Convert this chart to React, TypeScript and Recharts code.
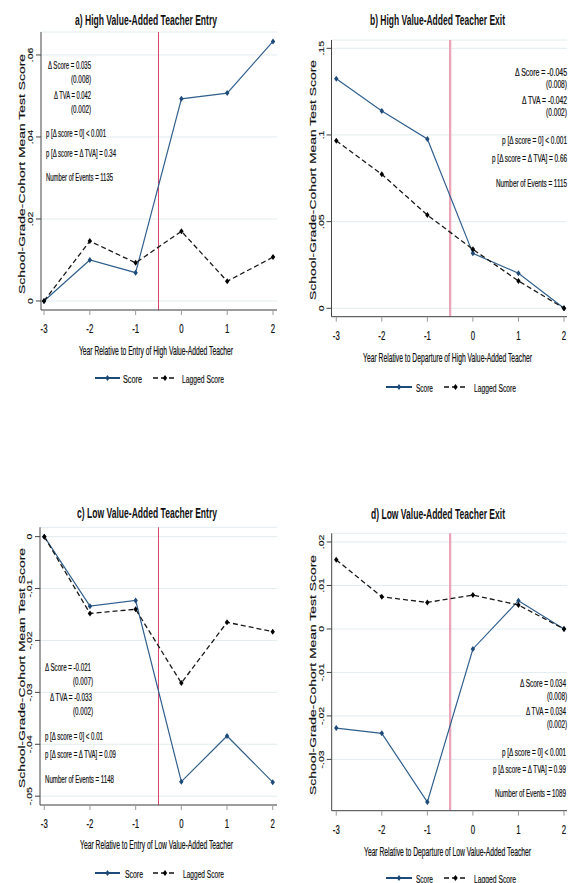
import React from 'react';
import { LineChart, Line, XAxis, YAxis, CartesianGrid, ReferenceLine } from 'recharts';

const years = [-3, -2, -1, 0, 1, 2];
const xTickLabels = ['-3', '-2', '-1', '0', '1', '2'];

const aScore = [0, 0.0100, 0.0069, 0.0493, 0.0507, 0.0633];
const aLagged = [0, 0.0146, 0.0093, 0.0170, 0.0048, 0.0107];
const bScore = [0.1325, 0.1138, 0.0977, 0.0317, 0.0202, 0];
const bLagged = [0.0967, 0.0773, 0.0538, 0.0340, 0.0158, 0];
const cScore = [0, -0.0134, -0.0123, -0.0472, -0.0384, -0.0473];
const cLagged = [0, -0.0148, -0.0140, -0.0282, -0.0165, -0.0183];
const dScore = [-0.0228, -0.0240, -0.0398, -0.0046, 0.0065, 0];
const dLagged = [0.0159, 0.0074, 0.0061, 0.0078, 0.0055, 0];

const aYTicks = [0, 0.02, 0.04, 0.06];
const aYLabels = ['0', '.02', '.04', '.06'];
const bYTicks = [0, 0.05, 0.1, 0.15];
const bYLabels = ['0', '.05', '.1', '.15'];
const cYTicks = [0, -0.01, -0.02, -0.03, -0.04, -0.05];
const cYLabels = ['0', '-.01', '-.02', '-.03', '-.04', '-.05'];
const dYTicks = [0.02, 0.01, 0, -0.01, -0.02, -0.03];
const dYLabels = ['.02', '.01', '0', '-.01', '-.02', '-.03'];

const seriesNames = ['Score', 'Lagged Score'];

const SCORE_COLOR = '#32608e';
const LAG_COLOR = '#1a1a1a';
const FONT = "'Liberation Sans', Arial, sans-serif";
const AXW = 30;
const K = 0.6;

const makeRows = (s: number[], l: number[]) =>
  years.map((y, i) => ({ year: y, score: s[i], lagged: l[i] }));

const diamond = (color: string) => (props: any) => {
  const { cx, cy, index } = props;
  if (cx == null || cy == null) return <g key={`n-${index}`} />;
  return (
    <path
      key={`d-${index}`}
      d={`M${cx},${cy - 3}L${cx + 2.2},${cy}L${cx},${cy + 3}L${cx - 2.2},${cy}Z`}
      fill={color}
    />
  );
};

const XTick = (props: any) => {
  const { x, y, payload } = props;
  const i = years.findIndex((v) => Math.abs(v - payload.value) < 1e-6);
  return (
    <text
      transform={`translate(${x},${y + 18}) scale(1,1.55)`}
      textAnchor="middle"
      fontSize={7.8}
      fontFamily={FONT}
      fill="#111"
      stroke="#111"
      strokeWidth={0.15}
    >
      {i >= 0 ? xTickLabels[i] : ''}
    </text>
  );
};

const makeYTick = (ticks: number[], labels: string[]) => (props: any) => {
  const { x, y, payload } = props;
  const i = ticks.findIndex((v) => Math.abs(v - payload.value) < 1e-7);
  return (
    <text
      transform={`translate(${x - 1},${y}) scale(0.66,1) rotate(-90)`}
      textAnchor="middle"
      fontSize={10.5}
      fontFamily={FONT}
      fill="#111"
      stroke="#111"
      strokeWidth={0.2}
    >
      {i >= 0 ? labels[i] : ''}
    </text>
  );
};

type PanelProps = {
  score: number[];
  lagged: number[];
  xDomain: [number, number];
  yDomain: [number, number];
  yTicks: number[];
  yLabels: string[];
  plot: { top: number; left: number; right: number; bottom: number };
  refColor: string;
  refWidth: number;
};

const Panel = ({ score, lagged, xDomain, yDomain, yTicks, yLabels, plot, refColor, refWidth }: PanelProps) => (
  <div style={{ position: 'absolute', left: 0, top: 0 }}>
    <LineChart
      width={568}
      height={883}
      data={makeRows(score, lagged)}
      margin={{ top: plot.top, left: plot.left - AXW, right: 568 - plot.right, bottom: 883 - plot.bottom - AXW }}
    >
      <CartesianGrid vertical={false} stroke="#e2ecef" strokeWidth={1} />
      <XAxis
        dataKey="year"
        type="number"
        domain={xDomain}
        ticks={years}
        allowDataOverflow
        interval={0}
        height={AXW}
        tickSize={5}
        tickMargin={0}
        tick={<XTick />}
        axisLine={{ stroke: '#444' }}
        tickLine={{ stroke: '#9a9a9a' }}
      />
      <YAxis
        type="number"
        domain={yDomain}
        ticks={yTicks}
        allowDataOverflow
        interval={0}
        width={AXW}
        tickSize={5}
        tickMargin={2}
        tick={makeYTick(yTicks, yLabels)}
        axisLine={{ stroke: '#444' }}
        tickLine={{ stroke: '#444' }}
      />
      <ReferenceLine x={-0.5} stroke={refColor} strokeWidth={refWidth} />
      <Line
        dataKey="score"
        stroke={SCORE_COLOR}
        strokeWidth={1.2}
        dot={diamond('#1d4a78')}
        isAnimationActive={false}
      />
      <Line
        dataKey="lagged"
        stroke={LAG_COLOR}
        strokeWidth={1.3}
        strokeDasharray="5 3"
        dot={diamond('#000')}
        isAnimationActive={false}
      />
    </LineChart>
  </div>
);

const T = ({ x, y, w, anchor = 'start', size = 10, bold = false, children }: any) => (
  <text
    transform={`translate(${x},${y}) scale(1,${1 / K})`}
    textLength={w}
    lengthAdjust="spacingAndGlyphs"
    textAnchor={anchor}
    fontSize={size * K}
    fontWeight={bold ? 'bold' : 'normal'}
    fontFamily={FONT}
    fill="#111"
    stroke={bold ? 'none' : '#111'}
    strokeWidth={bold ? 0 : 0.12}
  >
    {children}
  </text>
);

const YTitle = ({ x, y }: any) => (
  <text
    transform={`translate(${x},${y}) scale(0.7,1) rotate(-90)`}
    textAnchor="middle"
    textLength={240}
    lengthAdjust="spacingAndGlyphs"
    fontSize={14}
    fontFamily={FONT}
    fill="#111"
    stroke="#111"
    strokeWidth={0.2}
  >
    School-Grade-Cohort Mean Test Score
  </text>
);

const LegendRow = ({ x1, x2, x3, x4, y, tx1, tw1, tx2, tw2 }: any) => (
  <g>
    <line x1={x1} y1={y} x2={x2} y2={y} stroke="#1d4a78" strokeWidth={2} />
    <path d={`M${(x1 + x2) / 2},${y - 3}l2.2,3l-2.2,3l-2.2,-3Z`} fill="#1d4a78" />
    <T x={tx1} y={y + 5} w={tw1} size={11.5}>{seriesNames[0]}</T>
    <line x1={x3} y1={y} x2={x4} y2={y} stroke="#111" strokeWidth={1.4} strokeDasharray="5 3" />
    <path d={`M${(x3 + x4) / 2},${y - 3}l2.2,3l-2.2,3l-2.2,-3Z`} fill="#000" />
    <T x={tx2} y={y + 5} w={tw2} size={11.5}>{seriesNames[1]}</T>
  </g>
);

export default function App() {
  return (
    <div style={{ position: 'absolute', left: 0, top: 0, width: 568, height: 883, background: '#fff', overflow: 'hidden' }}>
      <Panel
        score={aScore}
        lagged={aLagged}
        xDomain={[-3.066, 2.087]}
        yDomain={[-0.0022, 0.0656]}
        yTicks={aYTicks}
        yLabels={aYLabels}
        plot={{ top: 32, left: 41, right: 277, bottom: 310 }}
        refColor="#d9446a"
        refWidth={1}
      />
      <Panel
        score={bScore}
        lagged={bLagged}
        xDomain={[-3.105, 2.066]}
        yDomain={[-0.00485, 0.1548]}
        yTicks={bYTicks}
        yLabels={bYLabels}
        plot={{ top: 40, left: 331.5, right: 567, bottom: 316.7 }}
        refColor="#eba5b8"
        refWidth={2.3}
      />
      <Panel
        score={cScore}
        lagged={cLagged}
        xDomain={[-3.094, 2.094]}
        yDomain={[-0.0517, 0.0018]}
        yTicks={cYTicks}
        yLabels={cYLabels}
        plot={{ top: 527.3, left: 40, right: 277, bottom: 805 }}
        refColor="#d9446a"
        refWidth={1}
      />
      <Panel
        score={dScore}
        lagged={dLagged}
        xDomain={[-3.1, 2.066]}
        yDomain={[-0.0418, 0.022]}
        yTicks={dYTicks}
        yLabels={dYLabels}
        plot={{ top: 533.3, left: 331.7, right: 567, bottom: 810.7 }}
        refColor="#eba5b8"
        refWidth={2.3}
      />
      <svg width={568} height={883} style={{ position: 'absolute', left: 0, top: 0, pointerEvents: 'none' }}>
        {/* titles */}
        <T x={75} y={25} w={142} size={14} bold>a) High Value-Added Teacher Entry</T>
        <T x={370} y={25} w={135} size={14} bold>b) High Value-Added Teacher Exit</T>
        <T x={77} y={518} w={140} size={14} bold>c) Low Value-Added Teacher Entry</T>
        <T x={371} y={519} w={134} size={14} bold>d) Low Value-Added Teacher Exit</T>

        {/* axis titles */}
        <T x={79} y={355} w={154} size={12}>Year Relative to Entry of High Value-Added Teacher</T>
        <T x={363} y={362} w={169} size={12}>Year Relative to Departure of High Value-Added Teacher</T>
        <T x={80} y={849} w={153} size={12}>Year Relative to Entry of Low Value-Added Teacher</T>
        <T x={364} y={856} w={167} size={12}>Year Relative to Departure of Low Value-Added Teacher</T>
        <YTitle x={25} y={174} />
        <YTitle x={316} y={180} />
        <YTitle x={25} y={668} />
        <YTitle x={316} y={675} />

        {/* panel a annotations */}
        <T x={91} y={69} w={43} anchor="end">Δ Score = 0.035</T>
        <T x={91} y={83} w={20} anchor="end">(0.008)</T>
        <T x={91} y={99} w={37} anchor="end">Δ TVA = 0.042</T>
        <T x={91} y={113} w={20} anchor="end">(0.002)</T>
        <T x={46} y={137} w={60}>p [Δ score = 0] &lt; 0.001</T>
        <T x={46} y={157} w={70}>p [Δ score = Δ TVA] = 0.34</T>
        <T x={46} y={181} w={67}>Number of Events = 1135</T>

        {/* panel b annotations */}
        <T x={567} y={76} w={52} anchor="end">Δ Score = -0.045</T>
        <T x={567} y={88} w={21} anchor="end">(0.008)</T>
        <T x={567} y={104} w={45} anchor="end">Δ TVA = -0.042</T>
        <T x={567} y={116} w={21} anchor="end">(0.002)</T>
        <T x={567} y={144} w={65} anchor="end">p [Δ score = 0] &lt; 0.001</T>
        <T x={567} y={162} w={75} anchor="end">p [Δ score = Δ TVA] = 0.66</T>
        <T x={567} y={187} w={71} anchor="end">Number of Events = 1115</T>

        {/* panel c annotations */}
        <T x={91} y={671} w={46} anchor="end">Δ Score = -0.021</T>
        <T x={93} y={685} w={20} anchor="end">(0.007)</T>
        <T x={92} y={701} w={42} anchor="end">Δ TVA = -0.033</T>
        <T x={93} y={715} w={20} anchor="end">(0.002)</T>
        <T x={45} y={740} w={58}>p [Δ score = 0] &lt; 0.01</T>
        <T x={45} y={758} w={71}>p [Δ score = Δ TVA] = 0.09</T>
        <T x={45} y={783} w={69}>Number of Events = 1148</T>

        {/* panel d annotations */}
        <T x={566} y={687} w={46} anchor="end">Δ Score = 0.034</T>
        <T x={567} y={700} w={20} anchor="end">(0.008)</T>
        <T x={566} y={715} w={40} anchor="end">Δ TVA = 0.034</T>
        <T x={567} y={728} w={20} anchor="end">(0.002)</T>
        <T x={566} y={756} w={64} anchor="end">p [Δ score = 0] &lt; 0.001</T>
        <T x={566} y={773} w={73} anchor="end">p [Δ score = Δ TVA] = 0.99</T>
        <T x={566} y={797} w={71} anchor="end">Number of Events = 1089</T>

        {/* legends */}
        <LegendRow x1={95} x2={120} x3={153} x4={177} y={378} tx1={123} tw1={19} tx2={182} tw2={42} />
        <LegendRow x1={386} x2={412} x3={444} x4={467} y={387} tx1={416} tw1={17} tx2={474} tw2={42} />
        <LegendRow x1={95} x2={120} x3={153} x4={177} y={873} tx1={125} tw1={18} tx2={183} tw2={41} />
        <LegendRow x1={386} x2={412} x3={444} x4={467} y={878} tx1={416} tw1={17} tx2={474} tw2={42} />
      </svg>
    </div>
  );
}
